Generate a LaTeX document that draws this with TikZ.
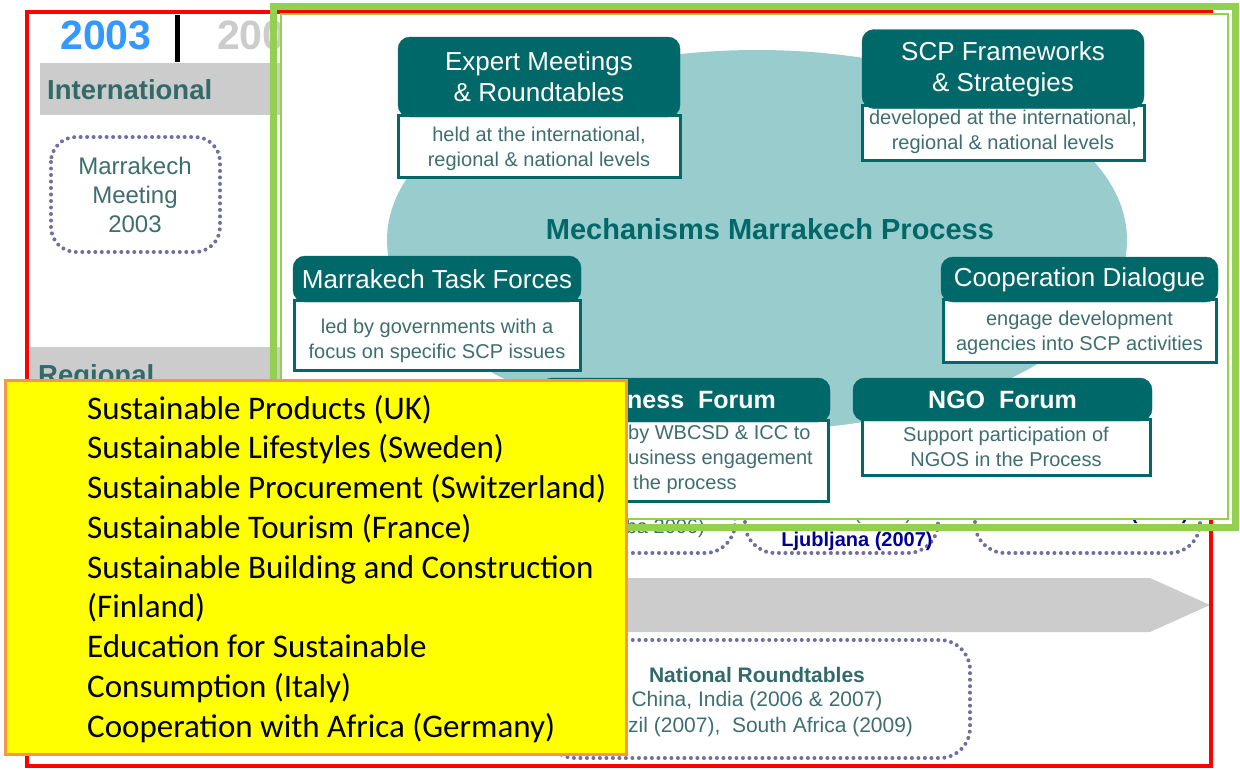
\documentclass[tikz,border=0pt]{standalone}
\usepackage{fontspec}
\setmainfont{Liberation Sans}
\newfontfamily\carlito{Carlito}
\usepackage{xcolor}
\usepackage{tikz}
\usetikzlibrary{shapes}
\usetikzlibrary{positioning}

\definecolor{mteal}{RGB}{0,104,104}
\definecolor{mlight}{RGB}{153,204,204}
\definecolor{mtext}{RGB}{62,110,110}
\definecolor{mdark}{RGB}{50,105,105}
\definecolor{mgray}{RGB}{204,204,204}
\definecolor{mgreen}{RGB}{146,208,80}
\definecolor{mdots}{RGB}{112,112,160}
\definecolor{myear}{RGB}{51,153,255}
\definecolor{mnavy}{RGB}{0,0,153}
\definecolor{morange}{RGB}{247,150,70}
\definecolor{myellow}{RGB}{255,255,0}
\definecolor{mred}{RGB}{255,0,0}

\tikzset{
  mechhead/.style={draw=mteal, fill=mteal, rounded corners=12, text=white, align=center, inner sep=0, font=\fontsize{26}{31}\selectfont},
  mechbody/.style={draw=mteal, line width=3, fill=white, inner sep=0},
  mechtext/.style={text=mtext, align=center, inner sep=0, font=\fontsize{20}{25}\selectfont},
  dotbox/.style={draw=mdots, line width=4, line cap=round, dash pattern=on 0pt off 6.5pt, rounded corners=30},
  smalltxt/.style={inner sep=0, font=\fontsize{20}{25}\selectfont},
}

\begin{document}
\begin{tikzpicture}[x=1pt, y=-1pt]
\useasboundingbox (0,0) rectangle (1240,769);
\fill[white] (0,0) rectangle (1240,769);

% timeline slide behind
\node[text=myear, inner sep=0, font=\bfseries\fontsize{41}{41}\selectfont] (yr03) at (106,35) {2003};
\draw[line width=5] (177,15) -- (177,62);
\node[anchor=west, text=mgray, inner sep=0, font=\bfseries\fontsize{41}{41}\selectfont] (yr05) at (217,35) {2005};
\fill[mgray] (40,63) rectangle (284,115);
\node[anchor=west, text=mdark, inner sep=0, font=\bfseries\fontsize{27.5}{30}\selectfont] (intl) at (47,90) {International};
\draw[dotbox, rounded corners=25] (51,137) rectangle (220,252);
\node[text=mtext, align=center, inner sep=0, font=\fontsize{24}{29}\selectfont] (mmeet) at (135,195) {Marrakech\\Meeting\\2003};
\fill[mgray] (30,347) rectangle (284,470);
\node[anchor=west, text=mdark, inner sep=0, font=\bfseries\fontsize{27.5}{30}\selectfont] (regl) at (38,377) {Regional};

\draw[dotbox] (560,440) rectangle (735,553);
\draw[dotbox] (745,440) rectangle (938,553);
\draw[dotbox] (975,440) rectangle (1200,553);
\node[smalltxt, anchor=east, text=mtext] (rgA) at (705,528) {ba 2006)};
\node[smalltxt, text=mtext] (rgB) at (857,514) {Bonn (2007)};
\node[smalltxt, text=mnavy, font=\bfseries\fontsize{20}{25}\selectfont] (rgC) at (1088,514) {North America (2008)};
\node[smalltxt, text=mnavy, font=\bfseries\fontsize{20}{25}\selectfont] (rgD) at (857,541) {Ljubljana (2007)};

\fill[mgray] (600,578) -- (1150,578) -- (1210,605) -- (1150,632) -- (600,632) -- cycle;

\draw[dotbox] (545,640) rectangle (970,758);
\node[smalltxt, text=mdark, font=\bfseries\fontsize{21}{25}\selectfont] (nrT) at (757,675) {National Roundtables};
\node[smalltxt, text=mtext, font=\fontsize{21}{25}\selectfont] (nrA) at (757,701) {China, India (2006 \& 2007)};
\node[smalltxt, anchor=west, text=mtext, font=\fontsize{21}{25}\selectfont] (nrB) at (628,727) {zil (2007),\ \ South Africa (2009)};

\draw[mred, line width=4.5] (27,12) rectangle (1211,766);

% pasted picture
\draw[mgreen, line width=7] (273.5,6.5) rectangle (1235,527.5);
\draw[mgreen, line width=2, fill=white] (281,14) rectangle (1228,519);

\node[ellipse, fill=mlight, minimum width=740, minimum height=380, inner sep=0] (mell) at (757,240) {};
\node[text=mteal, inner sep=0, font=\bfseries\fontsize{29}{29}\selectfont] (mtitle) at (770,229) {Mechanisms Marrakech Process};

\node[mechbody, minimum width=282, minimum height=62] (expB) at (539,146) {};
\node[mechtext] (expX) at (539,149) {held at the international,\\regional \& national levels};
\node[mechhead, minimum width=282, minimum height=80] (expH) at (539,77) {Expert Meetings\\\& Roundtables};

\node[mechbody, minimum width=282, minimum height=55] (scpB) at (1003,132.5) {};
\node[mechtext] (scpX) at (1003,132) {developed at the international,\\regional \& national levels};
\node[mechhead, minimum width=282, minimum height=79] (scpH) at (1003,69) {SCP Frameworks\\\& Strategies};

\node[mechbody, minimum width=286, minimum height=70] (tskB) at (437,335) {};
\node[mechtext] (tskX) at (437,341) {led by governments with a\\focus on specific SCP issues};
\node[mechhead, minimum width=288, minimum height=46] (tskH) at (437,279) {Marrakech Task Forces};

\node[mechbody, minimum width=273, minimum height=63] (coopB) at (1079.5,330.5) {};
\node[mechtext] (coopX) at (1079.5,333) {engage development\\agencies into SCP activities};
\node[mechhead, minimum width=277, minimum height=45] (coopH) at (1079.5,279.5) {Cooperation Dialogue};

\node[mechbody, minimum width=288, minimum height=81] (busB) at (684,460.5) {};
\node[mechhead, minimum width=290, minimum height=44] (busH) at (685,400) {};
\node[anchor=west, text=white, inner sep=0, font=\bfseries\fontsize{25}{30}\selectfont] (busT) at (627,400) {ness\ \ Forum};
\node[anchor=west, align=left, text=mtext, inner sep=0, font=\fontsize{20}{25}\selectfont] (busX) at (628,459) {by WBCSD \& ICC to\\usiness engagement\\\hspace*{5pt}the process};

\node[mechbody, minimum width=288, minimum height=56] (ngoB) at (1006,447) {};
\node[mechtext] (ngoX) at (1006,446.5) {Support participation of\\NGOS in the Process};
\node[mechhead, font=\bfseries\fontsize{25}{30}\selectfont, minimum width=299, minimum height=43] (ngoH) at (1002.5,399.5) {NGO\ \ Forum};

% task force list
\node[draw=morange, line width=3, fill=myellow, minimum width=621, minimum height=374, inner sep=0] (tfbox) at (315.5,567) {};
\foreach \ln [count=\i from 0] in {{Sustainable Products (UK)}, {Sustainable Lifestyles (Sweden)}, {Sustainable Procurement (Switzerland)}, {Sustainable Tourism (France)}, {Sustainable Building and Construction}, {(Finland)}, {Education for Sustainable}, {Consumption (Italy)}, {Cooperation with Africa (Germany)}}{
  \node[anchor=base west, inner sep=0, font=\carlito\fontsize{33}{40}\selectfont] (tf\i) at (87,419+39.75*\i) {\ln};
}
\end{tikzpicture}
\end{document}
